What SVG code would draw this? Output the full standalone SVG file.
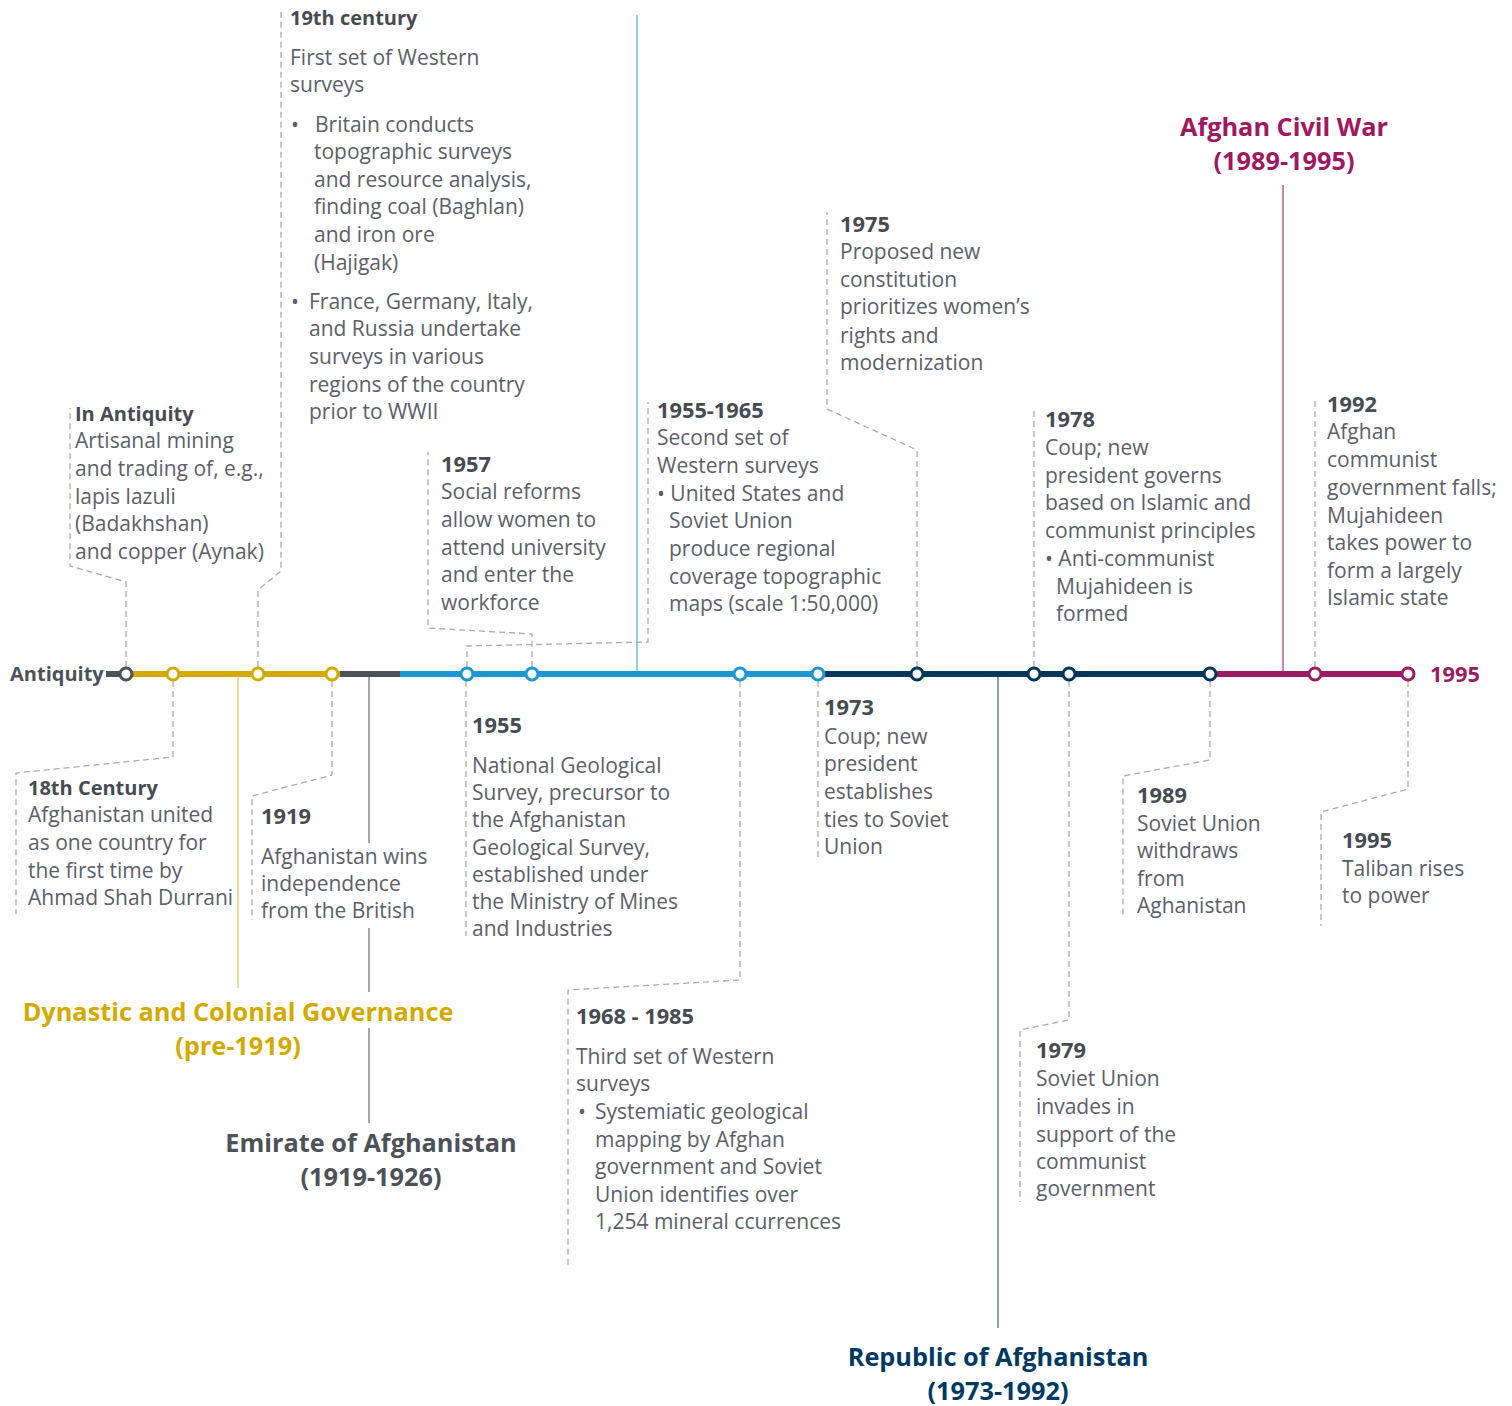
<svg xmlns="http://www.w3.org/2000/svg" width="1512" height="1406" viewBox="0 0 1512 1406">
<style>
.t{font-family:"Open Sans","Liberation Sans",sans-serif;font-size:21px;fill:#5b6068}
.b{font-family:"Open Sans","Liberation Sans",sans-serif;font-size:20px;font-weight:bold;fill:#464b52}
.y{font-family:"Open Sans","Liberation Sans",sans-serif;font-size:21.8px;font-weight:bold;fill:#464b52}
.p{font-family:"Open Sans","Liberation Sans",sans-serif;font-size:25.3px;font-weight:bold;text-anchor:middle}
.dash{fill:none;stroke:#a9abae;stroke-width:1.3;stroke-dasharray:6 4}
.axis{stroke-width:6;fill:none}
.node{fill:#fff;stroke-width:3}
</style>
<rect width="1512" height="1406" fill="#fff"/>
<g id="period-lines" fill="none">
<line x1="238" y1="674" x2="238" y2="988" stroke="#f0d68a" stroke-width="1.8"/>
<line x1="369" y1="674" x2="369" y2="843" stroke="#9a9da1" stroke-width="1.8"/>
<line x1="369" y1="928" x2="369" y2="992" stroke="#9a9da1" stroke-width="1.8"/>
<line x1="369" y1="1028" x2="369" y2="1123" stroke="#9a9da1" stroke-width="1.8"/>
<line x1="637" y1="15" x2="637" y2="674" stroke="#6dbde6" stroke-width="1.5"/>
<line x1="998" y1="674" x2="998" y2="1328" stroke="#7d97b3" stroke-width="1.8"/>
<line x1="1283" y1="185" x2="1283" y2="674" stroke="#c45a93" stroke-width="1.5"/>
</g>
<g id="connectors">
<path class="dash" d="M126,667 V582 L70,566 V408"/>
<path class="dash" d="M258,667 V590 L281,571 V8"/>
<path class="dash" d="M532,667 V634 L428,628 V452"/>
<path class="dash" d="M467,667 V646 L648,642 V402"/>
<path class="dash" d="M917,667 V450 L827,409 V212"/>
<path class="dash" d="M1034,667 V410"/>
<path class="dash" d="M1315,667 V397"/>
<path class="dash" d="M173,681 V757 L16,773 V914"/>
<path class="dash" d="M332,681 V775 L252,796 V920"/>
<path class="dash" d="M466,681 V936"/>
<path class="dash" d="M740,681 V980 L568,990 V1265"/>
<path class="dash" d="M818,681 V860"/>
<path class="dash" d="M1069,681 V1020 L1020,1030 V1202"/>
<path class="dash" d="M1210,681 V760 L1123,776 V918"/>
<path class="dash" d="M1408,681 V789 L1321,812 V926"/>
</g>
<g id="axis">
<line class="axis" x1="106" y1="674" x2="126" y2="674" stroke="#4d5259"/>
<line class="axis" x1="126" y1="674" x2="340" y2="674" stroke="#d4aa00"/>
<line class="axis" x1="340" y1="674" x2="400" y2="674" stroke="#4d5259"/>
<line class="axis" x1="400" y1="674" x2="818" y2="674" stroke="#1a96d0"/>
<line class="axis" x1="818" y1="674" x2="1210" y2="674" stroke="#003659"/>
<line class="axis" x1="1210" y1="674" x2="1408" y2="674" stroke="#9c1b62"/>
</g>
<g id="nodes">
<circle class="node" cx="126" cy="674" r="6" stroke="#4d5259"/>
<circle class="node" cx="173" cy="674" r="6" stroke="#d4aa00"/>
<circle class="node" cx="258" cy="674" r="6" stroke="#d4aa00"/>
<circle class="node" cx="332" cy="674" r="6" stroke="#d4aa00"/>
<circle class="node" cx="467" cy="674" r="6" stroke="#1a96d0"/>
<circle class="node" cx="532" cy="674" r="6" stroke="#1a96d0"/>
<circle class="node" cx="740" cy="674" r="6" stroke="#1a96d0"/>
<circle class="node" cx="818" cy="674" r="6" stroke="#1a96d0"/>
<circle class="node" cx="917" cy="674" r="6" stroke="#003659"/>
<circle class="node" cx="1034" cy="674" r="6" stroke="#003659"/>
<circle class="node" cx="1069" cy="674" r="6" stroke="#003659"/>
<circle class="node" cx="1210" cy="674" r="6" stroke="#003659"/>
<circle class="node" cx="1315" cy="674" r="6" stroke="#9c1b62"/>
<circle class="node" cx="1408" cy="674" r="6" stroke="#9c1b62"/>
</g>
<g id="axis-labels">
<text class="b" x="10" y="681" style="fill:#4d5259">Antiquity</text>
<text class="y" x="1430" y="682" style="fill:#9c1b62">1995</text>
</g>
<g id="periods">
<text class="p" x="238" y="1021" fill="#d4aa00">Dynastic and Colonial Governance</text>
<text class="p" x="238" y="1055" fill="#d4aa00">(pre-1919)</text>
<text class="p" x="371" y="1152" fill="#4d5259">Emirate of Afghanistan</text>
<text class="p" x="371" y="1186" fill="#4d5259">(1919-1926)</text>
<text class="p" x="998" y="1366" fill="#003a63">Republic of Afghanistan</text>
<text class="p" x="998" y="1400" fill="#003a63">(1973-1992)</text>
<text class="p" x="1284" y="136" fill="#a0185f">Afghan Civil War</text>
<text class="p" x="1284" y="170" fill="#a0185f">(1989-1995)</text>
</g>
<g id="ev-antiquity">
<text class="b" x="75" y="421">In Antiquity</text>
<text class="t" x="75" y="448">Artisanal mining</text>
<text class="t" x="75" y="476">and trading of, e.g.,</text>
<text class="t" x="75" y="504">lapis lazuli</text>
<text class="t" x="75" y="531">(Badakhshan)</text>
<text class="t" x="75" y="559">and copper (Aynak)</text>
</g>
<g id="ev-19th">
<text class="b" x="290" y="25">19th century</text>
<text class="t" x="290" y="65">First set of Western</text>
<text class="t" x="290" y="92">surveys</text>
<text class="t" x="291" y="132">•</text>
<text class="t" x="315" y="132">Britain conducts</text>
<text class="t" x="314" y="159">topographic surveys</text>
<text class="t" x="314" y="187">and resource analysis,</text>
<text class="t" x="314" y="214">finding coal (Baghlan)</text>
<text class="t" x="314" y="242">and iron ore</text>
<text class="t" x="314" y="270">(Hajigak)</text>
<text class="t" x="291" y="309">•</text>
<text class="t" x="309" y="309">France, Germany, Italy,</text>
<text class="t" x="309" y="336">and Russia undertake</text>
<text class="t" x="309" y="364">surveys in various</text>
<text class="t" x="309" y="392">regions of the country</text>
<text class="t" x="309" y="419">prior to WWII</text>
</g>
<g id="ev-1957">
<text class="y" x="441" y="472">1957</text>
<text class="t" x="441" y="499">Social reforms</text>
<text class="t" x="441" y="527">allow women to</text>
<text class="t" x="441" y="555">attend university</text>
<text class="t" x="441" y="582">and enter the</text>
<text class="t" x="441" y="610">workforce</text>
</g>
<g id="ev-1955-1965">
<text class="y" x="657" y="418">1955-1965</text>
<text class="t" x="657" y="445">Second set of</text>
<text class="t" x="657" y="473">Western surveys</text>
<text class="t" x="657" y="501">• United States and</text>
<text class="t" x="669" y="528">Soviet Union</text>
<text class="t" x="669" y="556">produce regional</text>
<text class="t" x="669" y="584">coverage topographic</text>
<text class="t" x="669" y="611">maps (scale 1:50,000)</text>
</g>
<g id="ev-1975">
<text class="y" x="840" y="232">1975</text>
<text class="t" x="840" y="259">Proposed new</text>
<text class="t" x="840" y="287">constitution</text>
<text class="t" x="840" y="314">prioritizes women’s</text>
<text class="t" x="840" y="343">rights and</text>
<text class="t" x="840" y="370">modernization</text>
</g>
<g id="ev-1978">
<text class="y" x="1045" y="427">1978</text>
<text class="t" x="1045" y="455">Coup; new</text>
<text class="t" x="1045" y="483">president governs</text>
<text class="t" x="1045" y="510">based on Islamic and</text>
<text class="t" x="1045" y="538">communist principles</text>
<text class="t" x="1045" y="566">• Anti-communist</text>
<text class="t" x="1056" y="594">Mujahideen is</text>
<text class="t" x="1056" y="621">formed</text>
</g>
<g id="ev-1992">
<text class="y" x="1327" y="412">1992</text>
<text class="t" x="1327" y="439">Afghan</text>
<text class="t" x="1327" y="467">communist</text>
<text class="t" x="1327" y="495">government falls;</text>
<text class="t" x="1327" y="523">Mujahideen</text>
<text class="t" x="1327" y="550">takes power to</text>
<text class="t" x="1327" y="578">form a largely</text>
<text class="t" x="1327" y="605">Islamic state</text>
</g>
<g id="ev-18th">
<text class="b" x="28" y="795">18th Century</text>
<text class="t" x="28" y="822">Afghanistan united</text>
<text class="t" x="28" y="850">as one country for</text>
<text class="t" x="28" y="878">the first time by</text>
<text class="t" x="28" y="905">Ahmad Shah Durrani</text>
</g>
<g id="ev-1919">
<text class="y" x="261" y="824">1919</text>
<text class="t" x="261" y="864">Afghanistan wins</text>
<text class="t" x="261" y="891">independence</text>
<text class="t" x="261" y="918">from the British</text>
</g>
<g id="ev-1955">
<text class="y" x="472" y="733">1955</text>
<text class="t" x="472" y="773">National Geological</text>
<text class="t" x="472" y="800">Survey, precursor to</text>
<text class="t" x="472" y="827">the Afghanistan</text>
<text class="t" x="472" y="855">Geological Survey,</text>
<text class="t" x="472" y="882">established under</text>
<text class="t" x="472" y="909">the Ministry of Mines</text>
<text class="t" x="472" y="936">and Industries</text>
</g>
<g id="ev-1973">
<text class="y" x="824" y="715">1973</text>
<text class="t" x="824" y="744">Coup; new</text>
<text class="t" x="824" y="771">president</text>
<text class="t" x="824" y="799">establishes</text>
<text class="t" x="824" y="827">ties to Soviet</text>
<text class="t" x="824" y="854">Union</text>
</g>
<g id="ev-1989">
<text class="y" x="1137" y="803">1989</text>
<text class="t" x="1137" y="831">Soviet Union</text>
<text class="t" x="1137" y="858">withdraws</text>
<text class="t" x="1137" y="886">from</text>
<text class="t" x="1137" y="913">Aghanistan</text>
</g>
<g id="ev-1995">
<text class="y" x="1342" y="848">1995</text>
<text class="t" x="1342" y="876">Taliban rises</text>
<text class="t" x="1342" y="903">to power</text>
</g>
<g id="ev-1968-1985">
<text class="y" x="576" y="1024">1968 - 1985</text>
<text class="t" x="576" y="1064">Third set of Western</text>
<text class="t" x="576" y="1091">surveys</text>
<text class="t" x="578" y="1119">•</text>
<text class="t" x="595" y="1119">Systemiatic geological</text>
<text class="t" x="595" y="1147">mapping by Afghan</text>
<text class="t" x="595" y="1174">government and Soviet</text>
<text class="t" x="595" y="1202">Union identifies over</text>
<text class="t" x="595" y="1229">1,254 mineral ccurrences</text>
</g>
<g id="ev-1979">
<text class="y" x="1036" y="1058">1979</text>
<text class="t" x="1036" y="1086">Soviet Union</text>
<text class="t" x="1036" y="1114">invades in</text>
<text class="t" x="1036" y="1142">support of the</text>
<text class="t" x="1036" y="1169">communist</text>
<text class="t" x="1036" y="1196">government</text>
</g>
</svg>
